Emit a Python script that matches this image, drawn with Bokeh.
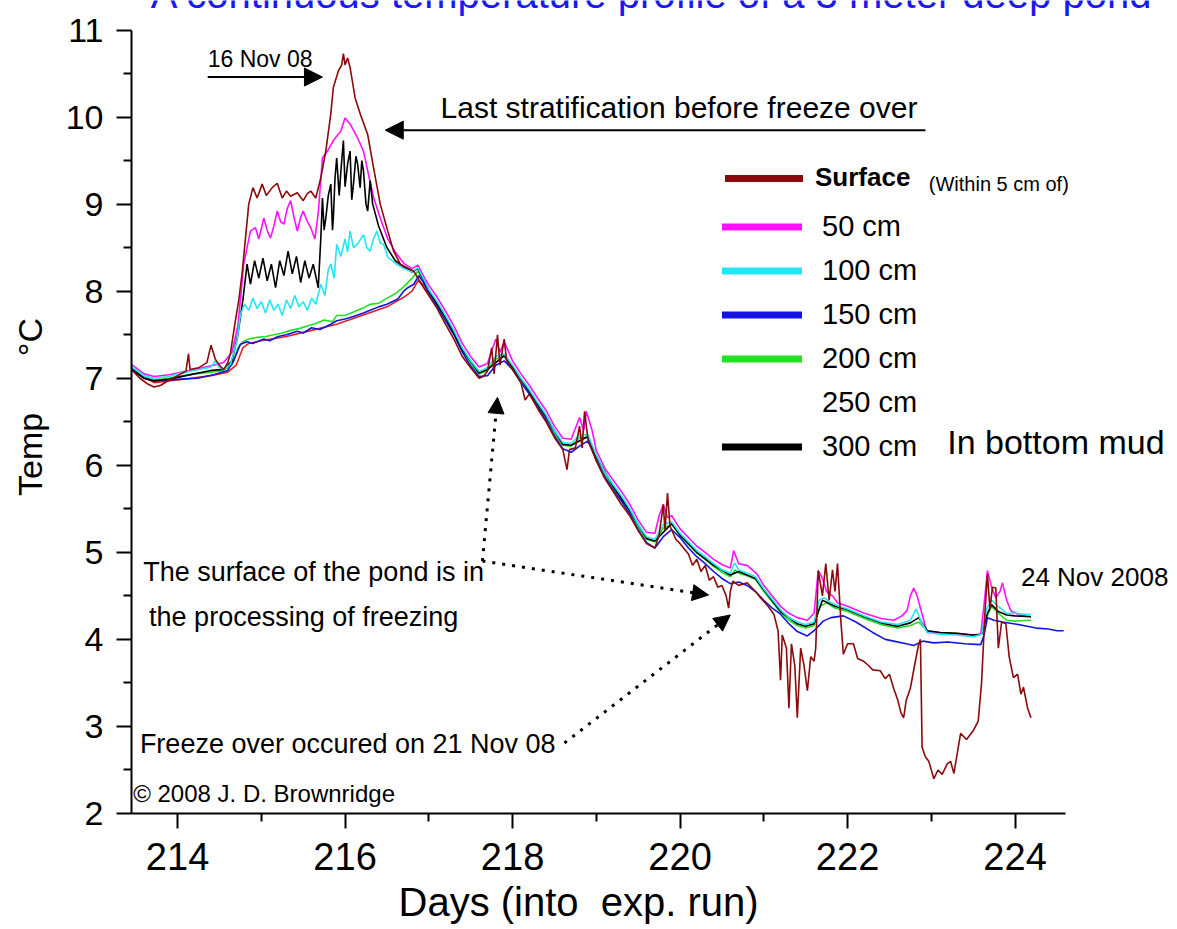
from bokeh.plotting import figure
from bokeh.models import (Range1d, FixedTicker, Label, Arrow, NormalHead, Legend,
                          LegendItem, Title)
from bokeh.embed import file_html
from bokeh.resources import INLINE

# ------------------------------------------------------------------ data
x_major_ticks = [214, 216, 218, 220, 222, 224]
x_minor_ticks = [215, 217, 219, 221, 223]
y_major_ticks = [2, 3, 4, 5, 6, 7, 8, 9, 10, 11]
y_minor_ticks = [2.5, 3.5, 4.5, 5.5, 6.5, 7.5, 8.5, 9.5, 10.5]
x_axis_span = (213.45, 224.6)
y_axis_span = (2, 11)

series_labels = ["Surface", "50 cm", "100 cm", "150 cm", "200 cm", "250 cm", "300 cm"]

surface_day = [
    213.45, 213.55, 213.65, 213.72, 213.80, 213.90, 214.00, 214.10, 214.13, 214.15,
    214.25, 214.35, 214.40, 214.45, 214.50, 214.55, 214.60, 214.63, 214.69, 214.73,
    214.77, 214.80, 214.83, 214.85, 214.90, 214.95, 215.01, 215.06, 215.13, 215.19,
    215.25, 215.30, 215.35, 215.43, 215.50, 215.55, 215.59, 215.65, 215.71, 215.77,
    215.83, 215.86, 215.92, 215.96, 215.98, 216.00, 216.03, 216.06, 216.12, 216.18,
    216.27, 216.34, 216.42, 216.51, 216.58, 216.66, 216.74, 216.82, 216.90, 217.00,
    217.10, 217.20, 217.30, 217.40, 217.50, 217.60, 217.65, 217.70, 217.75, 217.78,
    217.82, 217.85, 217.90, 217.93, 218.00, 218.10, 218.15, 218.20, 218.30, 218.40,
    218.50, 218.60, 218.65, 218.68, 218.75, 218.80, 218.83, 218.86, 218.90, 219.00,
    219.10, 219.20, 219.30, 219.40, 219.50, 219.60, 219.70, 219.75, 219.80, 219.82,
    219.85, 219.88, 219.95, 220.00, 220.10, 220.15, 220.20, 220.25, 220.30, 220.35,
    220.40, 220.45, 220.50, 220.55, 220.58, 220.60, 220.63, 220.70, 220.80, 220.90,
    220.96, 221.05, 221.12, 221.17, 221.20, 221.22, 221.27, 221.30, 221.33, 221.37,
    221.40, 221.44, 221.48, 221.52, 221.56, 221.60, 221.62, 221.65, 221.70, 221.74,
    221.78, 221.82, 221.85, 221.88, 221.92, 221.95, 222.00, 222.07, 222.12, 222.19,
    222.25, 222.30, 222.39, 222.45, 222.50, 222.55, 222.60, 222.64, 222.67, 222.70,
    222.75, 222.80, 222.85, 222.87, 222.89, 222.93, 222.97, 223.03, 223.08, 223.13,
    223.19, 223.23, 223.27, 223.32, 223.35, 223.42, 223.50, 223.56, 223.60, 223.64,
    223.67, 223.70, 223.73, 223.77, 223.80, 223.84, 223.89, 223.93, 223.98, 224.03,
    224.07, 224.10, 224.15, 224.19]
surface_temp = [
    7.10, 7.00, 6.93, 6.90, 6.92, 6.98, 7.03, 7.08, 7.28, 7.10,
    7.12, 7.18, 7.38, 7.22, 7.15, 7.10, 7.18, 7.28, 7.66, 7.89,
    8.20, 8.50, 8.80, 9.00, 9.19, 9.07, 9.23, 9.10, 9.19, 9.24,
    9.07, 9.15, 9.09, 9.13, 9.04, 9.12, 9.15, 9.07, 9.30, 9.61,
    10.04, 10.34, 10.53, 10.60, 10.73, 10.60, 10.68, 10.57, 10.22, 10.04,
    9.80, 9.42, 9.00, 8.69, 8.46, 8.31, 8.27, 8.23, 8.10, 7.95,
    7.80, 7.62, 7.45, 7.25, 7.12, 7.00, 7.02, 7.08, 7.35, 7.05,
    7.50, 7.15, 7.45, 7.20, 7.10, 6.95, 6.75, 6.82, 6.65, 6.50,
    6.32, 6.18, 5.95, 6.18, 6.20, 6.45, 6.20, 6.62, 6.30, 6.05,
    5.85, 5.70, 5.55, 5.42, 5.25, 5.10, 5.05, 5.20, 5.55, 5.25,
    5.68, 5.30, 5.15, 5.10, 4.98, 4.85, 4.92, 4.78, 4.85, 4.68,
    4.72, 4.60, 4.62, 4.50, 4.36, 4.55, 4.67, 4.62, 4.65, 4.55,
    4.48, 4.38, 4.29, 4.10, 3.53, 4.05, 3.90, 3.21, 3.95, 3.70,
    3.10, 3.90, 3.70, 3.41, 3.80, 3.75, 3.90, 4.79, 4.50, 4.87,
    4.45, 4.80, 4.55, 4.87, 4.21, 3.83, 3.95, 3.95, 3.78, 3.75,
    3.70, 3.65, 3.64, 3.55, 3.60, 3.44, 3.30, 3.15, 3.10, 3.30,
    3.44, 3.70, 3.95, 4.00, 2.76, 2.65, 2.60, 2.40, 2.50, 2.45,
    2.57, 2.60, 2.46, 2.75, 2.92, 2.85, 2.95, 3.06, 3.50, 4.30,
    4.75, 4.35, 4.60, 4.59, 3.90, 4.20, 4.18, 3.80, 3.56, 3.60,
    3.37, 3.45, 3.21, 3.10]

cm50_day = [
    213.45, 213.60, 213.72, 213.90, 214.00, 214.20, 214.43, 214.55, 214.65, 214.72,
    214.76, 214.79, 214.83, 214.87, 214.93, 214.97, 215.03, 215.07, 215.11, 215.15,
    215.19, 215.23, 215.27, 215.31, 215.35, 215.39, 215.43, 215.47, 215.50, 215.55,
    215.59, 215.64, 215.68, 215.73, 215.79, 215.86, 215.95, 216.00, 216.06, 216.10,
    216.15, 216.22, 216.28, 216.34, 216.42, 216.51, 216.60, 216.70, 216.80, 216.87,
    216.95, 217.00, 217.10, 217.20, 217.30, 217.40, 217.50, 217.60, 217.70, 217.80,
    217.85, 217.90, 218.00, 218.10, 218.20, 218.30, 218.40, 218.50, 218.60, 218.70,
    218.80, 218.85, 218.88, 218.95, 219.00, 219.10, 219.20, 219.30, 219.40, 219.50,
    219.60, 219.70, 219.75, 219.80, 219.85, 219.90, 220.00, 220.10, 220.20, 220.30,
    220.40, 220.50, 220.60, 220.64, 220.70, 220.80, 220.92, 221.00, 221.10, 221.20,
    221.30, 221.40, 221.52, 221.60, 221.65, 221.70, 221.75, 221.82, 221.88, 222.00,
    222.20, 222.40, 222.55, 222.65, 222.71, 222.75, 222.79, 222.83, 222.87, 222.95,
    223.10, 223.30, 223.50, 223.59, 223.63, 223.67, 223.72, 223.77, 223.82, 223.85,
    223.90, 223.95, 224.05, 224.19]
cm50_temp = [
    7.16, 7.05, 7.02, 7.04, 7.06, 7.10, 7.15, 7.18, 7.30, 7.60,
    8.00, 8.31, 8.50, 8.69, 8.73, 8.60, 8.84, 8.70, 8.61, 8.75,
    8.92, 8.80, 8.77, 8.95, 9.04, 8.85, 8.69, 8.85, 8.92, 8.80,
    8.73, 8.60, 8.90, 9.53, 9.61, 9.73, 9.84, 9.99, 9.92, 9.85,
    9.76, 9.61, 9.34, 9.08, 8.84, 8.60, 8.45, 8.32, 8.26, 8.30,
    8.15, 8.07, 7.93, 7.77, 7.60, 7.40, 7.25, 7.13, 7.17, 7.45,
    7.30, 7.42, 7.20, 7.05, 6.92, 6.77, 6.63, 6.45, 6.31, 6.30,
    6.55, 6.40, 6.62, 6.40, 6.17, 5.97, 5.83, 5.70, 5.55, 5.37,
    5.23, 5.22, 5.42, 5.55, 5.40, 5.42, 5.27, 5.17, 5.07, 5.00,
    4.92, 4.86, 4.82, 5.02, 4.87, 4.85, 4.75, 4.62, 4.50, 4.38,
    4.30, 4.25, 4.22, 4.30, 4.79, 4.70, 4.55, 4.50, 4.42, 4.38,
    4.30, 4.24, 4.22, 4.27, 4.33, 4.50, 4.59, 4.50, 4.36, 4.08,
    4.08, 4.06, 4.04, 4.06, 4.40, 4.79, 4.60, 4.48, 4.55, 4.65,
    4.45, 4.33, 4.28, 4.26]

cm100_day = [
    213.45, 213.60, 213.72, 213.90, 214.00, 214.20, 214.40, 214.45, 214.50, 214.55,
    214.63, 214.71, 214.75, 214.80, 214.85, 214.90, 214.95, 215.00, 215.05, 215.10,
    215.15, 215.20, 215.25, 215.30, 215.35, 215.40, 215.45, 215.50, 215.55, 215.60,
    215.65, 215.71, 215.76, 215.80, 215.83, 215.87, 215.90, 215.95, 216.00, 216.03,
    216.06, 216.10, 216.15, 216.22, 216.26, 216.30, 216.34, 216.38, 216.42, 216.46,
    216.51, 216.60, 216.70, 216.80, 216.87, 216.95, 217.00, 217.10, 217.20, 217.30,
    217.40, 217.50, 217.60, 217.70, 217.80, 217.90, 218.00, 218.10, 218.20, 218.30,
    218.40, 218.50, 218.60, 218.70, 218.80, 218.90, 219.00, 219.10, 219.20, 219.30,
    219.40, 219.50, 219.60, 219.70, 219.80, 219.90, 220.00, 220.10, 220.20, 220.30,
    220.40, 220.50, 220.60, 220.65, 220.70, 220.80, 220.90, 221.00, 221.10, 221.20,
    221.30, 221.40, 221.50, 221.60, 221.66, 221.72, 221.80, 221.90, 222.00, 222.20,
    222.40, 222.60, 222.75, 222.82, 222.88, 222.95, 223.10, 223.30, 223.50, 223.60,
    223.66, 223.72, 223.80, 223.90, 224.00, 224.19]
cm100_temp = [
    7.14, 7.03, 7.00, 7.02, 7.05, 7.09, 7.13, 7.20, 7.12, 7.10,
    7.16, 7.43, 7.73, 7.85, 7.78, 7.92, 7.80, 7.88, 7.75, 7.90,
    7.78, 7.85, 7.72, 7.90, 7.80, 7.95, 7.82, 7.88, 7.78, 7.92,
    7.85, 8.08, 7.95, 8.25, 8.31, 8.15, 8.54, 8.40, 8.60, 8.45,
    8.69, 8.50, 8.54, 8.65, 8.50, 8.46, 8.60, 8.69, 8.55, 8.54,
    8.39, 8.32, 8.26, 8.22, 8.27, 8.12, 8.02, 7.88, 7.72, 7.55,
    7.35, 7.20, 7.08, 7.12, 7.25, 7.28, 7.15, 7.00, 6.87, 6.72,
    6.58, 6.40, 6.26, 6.25, 6.35, 6.35, 6.12, 5.92, 5.78, 5.65,
    5.50, 5.32, 5.18, 5.15, 5.32, 5.35, 5.22, 5.12, 5.02, 4.95,
    4.87, 4.80, 4.76, 4.88, 4.80, 4.76, 4.72, 4.58, 4.46, 4.34,
    4.25, 4.20, 4.17, 4.20, 4.45, 4.48, 4.42, 4.38, 4.35, 4.27,
    4.20, 4.17, 4.22, 4.35, 4.20, 4.08, 4.06, 4.05, 4.03, 4.06,
    4.35, 4.45, 4.38, 4.30, 4.30, 4.28]

cm150_day = [
    213.45, 213.60, 213.71, 213.90, 214.03, 214.24, 214.43, 214.60, 214.67, 214.75,
    214.83, 214.90, 215.03, 215.10, 215.20, 215.30, 215.43, 215.50, 215.60, 215.70,
    215.83, 215.90, 216.00, 216.10, 216.22, 216.30, 216.40, 216.50, 216.63, 216.70,
    216.75, 216.82, 216.88, 216.95, 217.00, 217.10, 217.20, 217.30, 217.40, 217.50,
    217.60, 217.70, 217.80, 217.90, 218.00, 218.10, 218.20, 218.30, 218.40, 218.50,
    218.60, 218.70, 218.80, 218.90, 219.00, 219.10, 219.20, 219.30, 219.40, 219.50,
    219.60, 219.70, 219.80, 219.90, 220.00, 220.10, 220.20, 220.30, 220.40, 220.50,
    220.60, 220.70, 220.80, 220.90, 221.00, 221.10, 221.20, 221.30, 221.40, 221.52,
    221.60, 221.71, 221.80, 221.95, 222.10, 222.30, 222.45, 222.55, 222.70, 222.79,
    222.90, 223.03, 223.20, 223.40, 223.59, 223.63, 223.67, 223.75, 223.85, 223.98,
    224.10, 224.25, 224.40, 224.50, 224.58]
cm150_temp = [
    7.11, 7.00, 6.97, 6.98, 6.99, 7.00, 7.04, 7.09, 7.20, 7.39,
    7.42, 7.40, 7.45, 7.43, 7.48, 7.50, 7.54, 7.52, 7.58, 7.56,
    7.62, 7.66, 7.68, 7.71, 7.75, 7.78, 7.82, 7.85, 7.91, 8.00,
    8.04, 8.08, 8.18, 8.08, 7.98, 7.83, 7.66, 7.50, 7.30, 7.14,
    7.02, 7.03, 7.15, 7.20, 7.10, 6.95, 6.82, 6.67, 6.52, 6.34,
    6.19, 6.15, 6.22, 6.28, 6.06, 5.87, 5.72, 5.59, 5.44, 5.26,
    5.11, 5.05, 5.18, 5.26, 5.17, 5.05, 4.95, 4.87, 4.78, 4.70,
    4.64, 4.66, 4.62, 4.55, 4.45, 4.36, 4.29, 4.18, 4.09, 4.04,
    4.10, 4.21, 4.25, 4.27, 4.20, 4.08, 4.00, 3.98, 3.95, 3.93,
    3.98, 3.96, 3.97, 3.95, 3.94, 4.05, 4.25, 4.22, 4.20, 4.18,
    4.16, 4.13, 4.12, 4.10, 4.10]

cm200_day = [
    213.45, 213.60, 213.72, 213.90, 214.00, 214.20, 214.40, 214.55, 214.65, 214.72,
    214.78, 214.85, 214.95, 215.05, 215.15, 215.25, 215.35, 215.45, 215.55, 215.65,
    215.75, 215.85, 215.90, 216.00, 216.10, 216.20, 216.30, 216.40, 216.50, 216.60,
    216.70, 216.80, 216.87, 216.95, 217.00, 217.10, 217.20, 217.30, 217.40, 217.50,
    217.60, 217.70, 217.80, 217.90, 218.00, 218.10, 218.20, 218.30, 218.40, 218.50,
    218.60, 218.70, 218.80, 218.90, 219.00, 219.10, 219.20, 219.30, 219.40, 219.50,
    219.60, 219.70, 219.80, 219.90, 220.00, 220.10, 220.20, 220.30, 220.40, 220.50,
    220.60, 220.66, 220.70, 220.80, 220.90, 221.00, 221.10, 221.20, 221.30, 221.40,
    221.50, 221.60, 221.67, 221.75, 221.85, 222.00, 222.20, 222.40, 222.60, 222.75,
    222.85, 222.95, 223.10, 223.30, 223.50, 223.60, 223.66, 223.72, 223.80, 223.90,
    224.00, 224.19]
cm200_temp = [
    7.12, 7.01, 6.98, 7.00, 7.02, 7.05, 7.07, 7.09, 7.15, 7.35,
    7.42, 7.45, 7.47, 7.48, 7.50, 7.52, 7.55, 7.57, 7.60, 7.63,
    7.67, 7.65, 7.72, 7.72, 7.76, 7.80, 7.85, 7.86, 7.92, 7.97,
    8.05, 8.15, 8.23, 8.10, 8.00, 7.85, 7.69, 7.52, 7.32, 7.17,
    7.05, 7.09, 7.22, 7.25, 7.12, 6.97, 6.84, 6.69, 6.55, 6.37,
    6.23, 6.22, 6.32, 6.32, 6.09, 5.89, 5.75, 5.62, 5.47, 5.29,
    5.15, 5.12, 5.28, 5.32, 5.19, 5.09, 4.99, 4.92, 4.84, 4.77,
    4.72, 4.80, 4.76, 4.73, 4.69, 4.55, 4.43, 4.31, 4.22, 4.16,
    4.13, 4.16, 4.38, 4.42, 4.36, 4.32, 4.24, 4.17, 4.13, 4.16,
    4.20, 4.10, 4.08, 4.07, 4.05, 4.06, 4.25, 4.38, 4.30, 4.22,
    4.21, 4.22]

cm250_day = [213.45, 213.72, 214.00, 214.40, 214.60, 214.70, 214.78, 214.85, 215.00, 215.30,
             215.60, 215.90, 216.20, 216.50, 216.70, 216.80, 216.87, 216.95, 217.00]
cm250_temp = [7.09, 6.95, 6.98, 7.03, 7.07, 7.15, 7.35, 7.40, 7.43, 7.48,
              7.55, 7.62, 7.72, 7.82, 7.93, 8.00, 8.12, 8.06, 7.97]

cm300_day = [
    213.45, 213.60, 213.72, 213.90, 214.00, 214.20, 214.40, 214.55, 214.65, 214.72,
    214.78, 214.83, 214.87, 214.92, 214.97, 215.02, 215.07, 215.12, 215.17, 215.22,
    215.27, 215.32, 215.37, 215.42, 215.47, 215.52, 215.57, 215.62, 215.68, 215.71,
    215.73, 215.75, 215.77, 215.80, 215.83, 215.85, 215.86, 215.88, 215.90, 215.93,
    215.95, 215.98, 216.00, 216.03, 216.06, 216.08, 216.10, 216.13, 216.15, 216.18,
    216.20, 216.22, 216.25, 216.27, 216.30, 216.33, 216.40, 216.50, 216.60, 216.70,
    216.80, 216.87, 216.95, 217.00, 217.20, 217.40, 217.60, 217.70, 217.90, 218.00,
    218.20, 218.40, 218.60, 218.70, 218.90, 219.00, 219.20, 219.40, 219.60, 219.70,
    219.90, 220.00, 220.20, 220.40, 220.60, 220.70, 220.90, 221.00, 221.20, 221.40,
    221.50, 221.60, 221.70, 221.85, 222.00, 222.20, 222.40, 222.60, 222.75, 222.85,
    222.95, 223.10, 223.30, 223.50, 223.60, 223.67, 223.72, 223.80, 223.90, 224.00,
    224.19]
cm300_temp = [
    7.10, 7.00, 6.97, 6.99, 7.01, 7.05, 7.09, 7.10, 7.20, 7.50,
    7.90, 8.31, 8.08, 8.35, 8.15, 8.38, 8.12, 8.31, 8.04, 8.35,
    8.18, 8.46, 8.20, 8.40, 8.10, 8.35, 8.15, 8.31, 8.04, 8.60,
    9.07, 8.70, 8.84, 9.10, 9.23, 8.70, 8.84, 9.30, 9.53, 9.10,
    9.38, 9.73, 9.20, 9.46, 9.61, 9.05, 9.23, 9.55, 9.46, 9.19,
    9.50, 9.38, 9.00, 8.92, 9.27, 9.00, 8.75, 8.50, 8.35, 8.28,
    8.22, 8.26, 8.11, 8.01, 7.70, 7.33, 7.06, 7.10, 7.26, 7.13,
    6.85, 6.56, 6.24, 6.23, 6.33, 6.10, 5.76, 5.48, 5.16, 5.13,
    5.33, 5.20, 5.00, 4.85, 4.74, 4.78, 4.70, 4.57, 4.32, 4.18,
    4.15, 4.18, 4.45, 4.38, 4.34, 4.26, 4.19, 4.15, 4.19, 4.25,
    4.10, 4.08, 4.07, 4.05, 4.06, 4.30, 4.40, 4.32, 4.28, 4.27,
    4.26]

# ------------------------------------------------------------------ style / layout constants
FONT = "Liberation Sans"
C_SURF, C_50, C_100, C_150, C_200, C_250, C_300 = (
    "#8B0A0A", "#FF10FF", "#25E6F0", "#1414E0", "#22E022", "#E02020", "#000000")
PX_PER_DAY = 83.75
PX_PER_DEG = 87.05
FRAME_W, FRAME_H = 1046, 813

p = figure(frame_width=FRAME_W, frame_height=FRAME_H,
           x_range=Range1d(x_axis_span[0], x_axis_span[0] + FRAME_W / PX_PER_DAY),
           y_range=Range1d(y_axis_span[0], y_axis_span[0] + FRAME_H / PX_PER_DEG),
           output_backend="svg", toolbar_location=None,
           min_border_left=131, min_border_right=0, min_border_top=0, min_border_bottom=116)
p.outline_line_color = None
p.xgrid.visible = False
p.ygrid.visible = False
p.background_fill_color = "white"
p.border_fill_color = "white"

for ax in (p.xaxis[0], p.yaxis[0]):
    ax.axis_line_width = 2
    ax.major_tick_line_width = 2
    ax.minor_tick_line_width = 2
    ax.major_tick_in = 0
    ax.major_tick_out = 15
    ax.minor_tick_in = 0
    ax.minor_tick_out = 8
    ax.major_label_text_font = FONT
    ax.major_label_text_color = "black"
    ax.axis_label_text_font = FONT
    ax.axis_label_text_font_style = "normal"
    ax.axis_label_text_color = "black"

xa = p.xaxis[0]
xa.bounds = x_axis_span
xa.ticker = FixedTicker(ticks=x_major_ticks, minor_ticks=x_minor_ticks)
xa.major_label_text_font_size = "38px"
xa.major_label_standoff = 14

ya = p.yaxis[0]
ya.bounds = y_axis_span
ya.ticker = FixedTicker(ticks=y_major_ticks, minor_ticks=y_minor_ticks)
ya.major_label_text_font_size = "34px"
ya.major_label_standoff = 13
ya.axis_label = "Temp" + "\u00a0" * 6 + "\u00b0C"
ya.axis_label_text_font_size = "34px"
ya.axis_label_standoff = 14

# x axis title placed under the axis, aligned like the original
p.add_layout(Title(text="Days (into\u00a0 exp. run)", align="left", offset=267,
                   vertical_align="top", standoff=14,
                   text_font=FONT, text_font_size="40px", text_font_style="normal",
                   text_color="black"), "below")

# ------------------------------------------------------------------ series
LW = 1.6
p.line(cm250_day, cm250_temp, line_color=C_250, line_width=LW)
p.line(cm200_day, cm200_temp, line_color=C_200, line_width=LW)
p.line(cm150_day, cm150_temp, line_color=C_150, line_width=LW)
p.line(cm50_day, cm50_temp, line_color=C_50, line_width=LW)
p.line(cm300_day, cm300_temp, line_color=C_300, line_width=LW)
p.line(cm100_day, cm100_temp, line_color=C_100, line_width=LW)
p.line(surface_day, surface_temp, line_color=C_SURF, line_width=LW)

# legend swatch renderers (thick strokes, hidden in the plot, drawn only in the legend)
def swatch(xs, ys, color, alpha=1.0):
    return p.line(xs, ys, line_color=color, line_width=7, line_cap="round",
                  line_alpha=alpha, visible=False)

sw = [swatch(surface_day, surface_temp, C_SURF),
      swatch(cm50_day, cm50_temp, C_50),
      swatch(cm100_day, cm100_temp, C_100),
      swatch(cm150_day, cm150_temp, C_150),
      swatch(cm200_day, cm200_temp, C_200),
      swatch(cm250_day, cm250_temp, C_250, 0.0),
      swatch(cm300_day, cm300_temp, C_300)]

leg_a = Legend(items=[LegendItem(label=series_labels[0], renderers=[sw[0]])],
               location=(594, 620), padding=0, spacing=0, margin=0,
               glyph_width=78, glyph_height=30, label_height=30, label_standoff=12,
               label_text_font=FONT, label_text_font_size="26px", label_text_font_style="bold",
               label_text_color="black", inactive_fill_alpha=0,
               border_line_color=None, background_fill_alpha=0)
leg_b = Legend(items=[LegendItem(label=series_labels[i], renderers=[sw[i]]) for i in range(1, 7)],
               location=(591, 350), padding=0, spacing=11, margin=0,
               glyph_width=80, glyph_height=33, label_height=33, label_standoff=20,
               label_text_font=FONT, label_text_font_size="29px",
               label_text_color="black", inactive_fill_alpha=0,
               border_line_color=None, background_fill_alpha=0)
p.add_layout(leg_a)
p.add_layout(leg_b)

# ------------------------------------------------------------------ annotations
def note(x, y, text, size, align="left", baseline="middle", color="black", style="normal"):
    p.add_layout(Label(x=x, y=y, text=text, text_font=FONT, text_font_size=size,
                       text_align=align, text_baseline=baseline, text_color=color,
                       text_font_style=style))

# the original's heading is cropped at the top edge: only its lower part shows
note(213.68, 11.417, "A continuous temperature profile of a 3 meter deep pond", "40px",
     baseline="alphabetic", color="#1A1AF0")
note(214.36, 10.67, "16 Nov 08", "23px")
note(217.14, 10.11, "Last stratification before freeze over", "30px")
note(222.97, 9.23, "(Within 5 cm of)", "20px")
note(223.19, 6.27, "In bottom mud", "34px")
note(224.07, 4.72, "24 Nov 2008", "26px")
note(213.59, 4.77, "The surface of the pond is in", "27px")
note(213.66, 4.26, "the processing of freezing", "27px")
note(213.55, 2.80, "Freeze over occured on 21 Nov 08", "27px")
note(213.47, 2.23, "\u00a9 2008 J. D. Brownridge", "24px")

def head(size):
    return NormalHead(size=size, fill_color="black", line_color="black", line_width=1)

p.add_layout(Arrow(x_start=214.36, y_start=10.46, x_end=215.73, y_end=10.46,
                   line_width=2, end=head(18)))
p.add_layout(Arrow(x_start=222.93, y_start=9.85, x_end=216.48, y_end=9.85,
                   line_width=2, end=head(18)))
p.add_layout(Arrow(x_start=217.64, y_start=4.90, x_end=217.82, y_end=6.78,
                   line_width=3, line_dash="3 7", end=head(16)))
p.add_layout(Arrow(x_start=217.64, y_start=4.90, x_end=220.34, y_end=4.51,
                   line_width=3, line_dash="3 7", end=head(16)))
p.add_layout(Arrow(x_start=218.62, y_start=2.81, x_end=220.60, y_end=4.28,
                   line_width=3, line_dash="3 7", end=head(16)))

open("out.html", "w").write(file_html(p, INLINE))
